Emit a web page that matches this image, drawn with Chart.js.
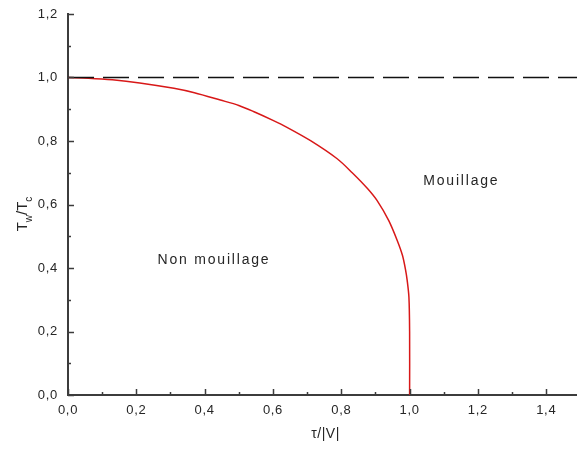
<!DOCTYPE html>
<html>
<head>
<meta charset="utf-8">
<script src="https://cdn.jsdelivr.net/npm/chart.js@4/dist/chart.umd.min.js"></script>
<style>
  html, body { margin: 0; padding: 0; background: #fff; overflow: hidden; }
  #wrap { width: 577px; height: 449px; }
</style>
</head>
<body>
<div id="wrap"><canvas id="c" width="577" height="449"></canvas></div>
<script>
// Wetting transition line: reduced wetting temperature vs tau/|V|
const tauOverV = [0, 0.06, 0.13, 0.21, 0.31, 0.37, 0.446, 0.50, 0.543, 0.60, 0.641, 0.71, 0.788, 0.832, 0.876, 0.905, 0.939, 0.964, 0.979, 0.988, 0.993, 0.998, 1.0, 1.0];
const twOverTc = [1.0, 0.998, 0.993, 0.983, 0.966, 0.952, 0.929, 0.912, 0.893, 0.865, 0.843, 0.801, 0.744, 0.70, 0.651, 0.612, 0.549, 0.486, 0.440, 0.395, 0.36, 0.308, 0.2, 0.0];

// Bulk critical temperature reference (Tw/Tc = 1)
const criticalX = [0, 1.49];
const criticalY = [1.0, 1.0];

const xTickValues = [0, 0.2, 0.4, 0.6, 0.8, 1.0, 1.2, 1.4];
const yTickValues = [0, 0.2, 0.4, 0.6, 0.8, 1.0, 1.2];
const xMinorValues = [0.1, 0.3, 0.5, 0.7, 0.9, 1.1, 1.3];
const yMinorValues = [0.1, 0.3, 0.5, 0.7, 0.9, 1.1];

const regionLabels = ['Non mouillage', 'Mouillage'];
const regionX = [0.262, 1.04];
const regionY = [0.424, 0.673];

const fmt = v => v.toFixed(1).replace('.', ',');
const AXIS = '#3c3c3c';
const TEXT = '#262626';

const decor = {
  id: 'decor',
  beforeDraw(chart) {
    chart.ctx.letterSpacing = '0.7px';
  },
  afterDraw(chart) {
    const ctx = chart.ctx;
    const xs = chart.scales.x, ys = chart.scales.y;
    const x0 = xs.getPixelForValue(0), y0 = ys.getPixelForValue(0);
    ctx.save();
    ctx.letterSpacing = '0px';
    ctx.strokeStyle = AXIS;
    ctx.lineWidth = 1.5;
    ctx.beginPath();
    // inward tick marks
    xTickValues.forEach(v => { const p = Math.round(xs.getPixelForValue(v)) + 0.5; ctx.moveTo(p, y0); ctx.lineTo(p, y0 - 6); });
    xMinorValues.forEach(v => { const p = Math.round(xs.getPixelForValue(v)) + 0.5; ctx.moveTo(p, y0); ctx.lineTo(p, y0 - 3); });
    yTickValues.forEach(v => { const p = Math.round(ys.getPixelForValue(v)) + 0.5; ctx.moveTo(x0, p); ctx.lineTo(x0 + 6, p); });
    yMinorValues.forEach(v => { const p = Math.round(ys.getPixelForValue(v)) + 0.5; ctx.moveTo(x0, p); ctx.lineTo(x0 + 3, p); });
    ctx.stroke();

    // region labels
    ctx.fillStyle = TEXT;
    ctx.font = '14px "Liberation Sans", Arial, sans-serif';
    ctx.textBaseline = 'middle';
    ctx.textAlign = 'left';
    ctx.letterSpacing = '1.8px';
    regionLabels.forEach((t, i) => {
      ctx.fillText(t, xs.getPixelForValue(regionX[i]), ys.getPixelForValue(regionY[i]));
    });

    // x axis title
    ctx.letterSpacing = '0.5px';
    ctx.textAlign = 'center';
    ctx.font = '14px "Liberation Sans", Arial, sans-serif';
    ctx.fillText('\u03C4/|V|', (chart.chartArea.left + chart.chartArea.right) / 2 + 3, 434);

    // y axis title: T_w / T_c
    ctx.save();
    ctx.translate(27, 214);
    ctx.rotate(-Math.PI / 2);
    ctx.textBaseline = 'alphabetic';
    ctx.textAlign = 'left';
    ctx.letterSpacing = '0px';
    const big = '15px "Liberation Sans", Arial, sans-serif';
    const small = '10px "Liberation Sans", Arial, sans-serif';
    const parts = [['T', big, 0], ['w', small, 5], ['/T', big, 0], ['c', small, 5]];
    let total = 0;
    parts.forEach(([t, f]) => { ctx.font = f; total += ctx.measureText(t).width; });
    let cx = -total / 2;
    parts.forEach(([t, f, dy]) => { ctx.font = f; ctx.fillText(t, cx, dy); cx += ctx.measureText(t).width; });
    ctx.restore();
    ctx.restore();
  }
};

new Chart(document.getElementById('c'), {
  type: 'line',
  data: {
    datasets: [
      {
        data: criticalX.map((x, i) => ({ x, y: criticalY[i] })),
        borderColor: '#111',
        borderWidth: 1.6,
        borderDash: [26, 9],
        pointRadius: 0,
        fill: false
      },
      {
        data: tauOverV.map((x, i) => ({ x, y: twOverTc[i] })),
        borderColor: '#d81818',
        borderWidth: 1.5,
        pointRadius: 0,
        tension: 0.3,
        fill: false
      }
    ]
  },
  options: {
    responsive: false,
    animation: false,
    layout: { autoPadding: false, padding: { top: 14, right: 0, left: 0, bottom: 0 } },
    plugins: { legend: { display: false }, tooltip: { enabled: false } },
    scales: {
      x: {
        type: 'linear',
        min: 0,
        max: 1.49,
        afterBuildTicks: s => { s.ticks = xTickValues.map(v => ({ value: v })); },
        afterFit: s => { s.height = 54; s.paddingLeft = 0; s.paddingRight = 0; },
        grid: { display: false, drawTicks: false },
        border: { display: true, color: AXIS, width: 2 },
        ticks: {
          padding: 8,
          color: TEXT,
          maxRotation: 0,
          font: { size: 13, family: '"Liberation Sans", Arial, sans-serif' },
          callback: v => fmt(v)
        }
      },
      y: {
        type: 'linear',
        min: 0,
        max: 1.2,
        afterBuildTicks: s => { s.ticks = yTickValues.map(v => ({ value: v })); },
        afterFit: s => { s.width = 68; s.paddingTop = 0; s.paddingBottom = 0; },
        grid: { display: false, drawTicks: false },
        border: { display: true, color: AXIS, width: 2 },
        ticks: {
          padding: 10,
          color: TEXT,
          font: { size: 13, family: '"Liberation Sans", Arial, sans-serif' },
          callback: v => fmt(v)
        }
      }
    }
  },
  plugins: [decor]
});
</script>
</body>
</html>
